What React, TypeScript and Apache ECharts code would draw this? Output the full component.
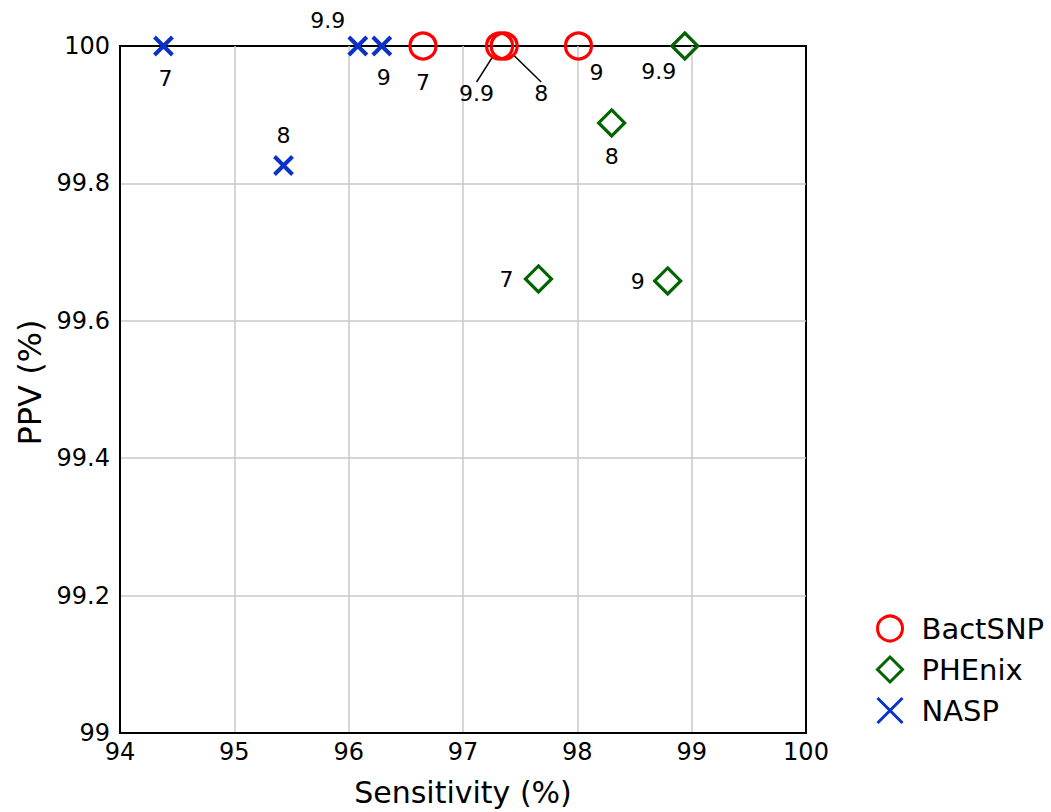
import React, { useEffect, useRef } from "react";
import * as echarts from "echarts";

const seriesNames = ["BactSNP", "PHEnix", "NASP"];

const bactSens = [96.65, 97.32, 97.36, 98.01];
const bactPPV = [100, 100, 100, 100];
const bactLabels = ["7", "9.9", "8", "9"];

const pheSens = [97.66, 98.3, 98.79, 98.94];
const phePPV = [99.661, 99.888, 99.658, 100];
const pheLabels = ["7", "8", "9", "9.9"];

const naspSens = [94.38, 95.43, 96.29, 96.08];
const naspPPV = [100, 99.826, 100, 100];
const naspLabels = ["7", "8", "9", "9.9"];

// label placement (pixel shifts from marker centre), styling only
const bactShift = [[0, 36], [-23, 47], [37, 47], [18, 26]];
const bactLeader = [false, true, true, false];
const pheShift = [[-32, 1], [0, 34], [-30, 1], [-26, 25]];
const naspShift = [[2, 32], [0, -30], [2, 31], [-30, -26]];

const FONT = "DejaVu Sans";

function build(xs: number[], ys: number[], labels: string[], leaders?: boolean[]) {
  return xs.map((x, i) => ({
    value: [x, ys[i]],
    label: { formatter: labels[i] },
    labelLine: { show: !!(leaders && leaders[i]) },
  }));
}

export default function App() {
  const ref = useRef<HTMLDivElement>(null);
  useEffect(() => {
    if (!ref.current) return;
    const chart = echarts.init(ref.current, undefined, { renderer: "svg" });
    const labelBase = {
      show: true,
      position: "inside",
      color: "#000",
      fontSize: 22,
      fontFamily: FONT,
    };
    const mkLayout = (shifts: number[][]) => (p: any) => ({
      dx: shifts[p.dataIndex][0],
      dy: shifts[p.dataIndex][1],
    });
    chart.setOption({
      animation: false,
      textStyle: { fontFamily: FONT },
      grid: {
        left: 120,
        right: 245,
        top: 46,
        bottom: 78,
        show: true,
        borderColor: "#000",
        borderWidth: 2,
        backgroundColor: "transparent",
      },
      legend: {
        orient: "vertical",
        left: 871,
        top: 609,
        itemWidth: 25,
        itemHeight: 25,
        itemGap: 12,
        data: seriesNames,
        itemStyle: { borderWidth: 3 },
        textStyle: { fontSize: 29, lineHeight: 28, color: "#000", fontFamily: FONT, padding: [0, 0, 0, 14] },
      },
      xAxis: {
        type: "value",
        min: 94,
        max: 100,
        interval: 1,
        name: "Sensitivity (%)",
        nameLocation: "middle",
        nameGap: 44,
        nameTextStyle: { fontSize: 30, color: "#000", fontFamily: FONT },
        axisLine: { show: true, lineStyle: { color: "#000", width: 2 } },
        axisTick: { show: false },
        axisLabel: { fontSize: 24, color: "#000", margin: 7, fontFamily: FONT },
        splitLine: { show: true, showMinLine: false, showMaxLine: false, lineStyle: { color: "#c8c8c8", width: 1.5 } },
      },
      yAxis: {
        type: "value",
        min: 99,
        max: 100,
        interval: 0.2,
        name: "PPV (%)",
        nameLocation: "middle",
        nameGap: 74,
        nameTextStyle: { fontSize: 32, color: "#000", fontFamily: FONT, padding: [0, 0, 0, 14] },
        axisLine: { show: true, lineStyle: { color: "#000", width: 2 } },
        axisTick: { show: false },
        axisLabel: { fontSize: 24, color: "#000", margin: 10, fontFamily: FONT },
        splitLine: { show: true, showMinLine: false, showMaxLine: false, lineStyle: { color: "#c8c8c8", width: 1.5 } },
      },
      series: [
        {
          name: "BactSNP",
          type: "scatter",
          clip: false,
          symbol: "circle",
          symbolSize: 26,
          itemStyle: { color: "rgba(0,0,0,0)", borderColor: "#ff0000", borderWidth: 3.2, opacity: 1 },
          label: labelBase,
          labelLayout: mkLayout(bactShift),
          labelLine: { lineStyle: { color: "#000", width: 1.5 } },
          data: build(bactSens, bactPPV, bactLabels, bactLeader),
          z: 3,
        },
        {
          name: "PHEnix",
          type: "scatter",
          clip: false,
          symbol: "diamond",
          symbolSize: 26,
          itemStyle: { color: "rgba(0,0,0,0)", borderColor: "#006400", borderWidth: 3.2, opacity: 1 },
          label: labelBase,
          labelLayout: mkLayout(pheShift),
          data: build(pheSens, phePPV, pheLabels),
          z: 3,
        },
        {
          name: "NASP",
          type: "scatter",
          clip: false,
          symbol: "path://M0,0L20,20M20,0L0,20",
          symbolSize: 18,
          itemStyle: { color: "rgba(0,0,0,0)", borderColor: "#0a32c8", borderWidth: 4, opacity: 1 },
          label: labelBase,
          labelLayout: mkLayout(naspShift),
          data: build(naspSens, naspPPV, naspLabels),
          z: 3,
        },
      ],
    });
    return () => chart.dispose();
  }, []);
  return <div ref={ref} style={{ width: 1051, height: 812, position: "absolute", left: 0, top: 0 }} />;
}
